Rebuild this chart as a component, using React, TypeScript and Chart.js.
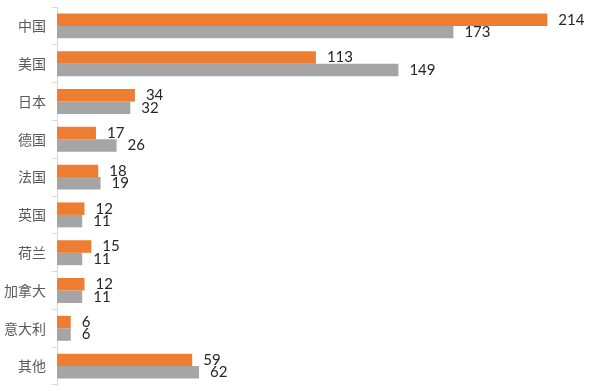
import React, { useEffect, useRef } from "react";
import { Chart, registerables } from "chart.js";

Chart.register(...registerables);

const categories = ["中国", "美国", "日本", "德国", "法国", "英国", "荷兰", "加拿大", "意大利", "其他"];
const series1Name = "系列1";
const series2Name = "系列2";
const series1Values = [214, 113, 34, 17, 18, 12, 15, 12, 6, 59];
const series2Values = [173, 149, 32, 26, 19, 11, 11, 11, 6, 62];

const ORANGE = "#ED7D31";
const GRAY = "#A5A5A5";

const valueLabels = {
  id: "valueLabels",
  afterDatasetsDraw(chart: any) {
    const ctx = chart.ctx;
    ctx.save();
    ctx.font = "15px Lato, 'Open Sans', sans-serif";
    ctx.fillStyle = "#262626";
    ctx.textAlign = "left";
    ctx.textBaseline = "middle";
    chart.data.datasets.forEach((ds: any, di: number) => {
      const meta = chart.getDatasetMeta(di);
      meta.data.forEach((bar: any, i: number) => {
        ctx.fillText(String(ds.data[i]), bar.x + 11, bar.y);
      });
    });
    ctx.restore();
  },
};

export default function App() {
  const ref = useRef<HTMLCanvasElement | null>(null);
  useEffect(() => {
    if (!ref.current) return;
    const chart = new Chart(ref.current, {
      type: "bar",
      data: {
        labels: categories,
        datasets: [
          { label: series1Name, data: series1Values, backgroundColor: ORANGE, categoryPercentage: 0.66, barPercentage: 1 },
          { label: series2Name, data: series2Values, backgroundColor: GRAY, categoryPercentage: 0.66, barPercentage: 1 },
        ],
      },
      options: {
        indexAxis: "y",
        animation: false,
        responsive: true,
        maintainAspectRatio: false,
        layout: { padding: { top: 7, bottom: 6, right: 15, left: 0 } },
        plugins: { legend: { display: false }, tooltip: { enabled: false } },
        scales: {
          x: { display: false, min: 0, max: 230 },
          y: {
            afterFit: (scale: any) => {
              scale.width = 57;
              scale.paddingTop = 0;
              scale.paddingBottom = 0;
            },
            grid: { display: true, drawOnChartArea: false, drawTicks: true, tickLength: 5, color: "#D9D9D9", offset: true },
            border: { display: true, color: "#D9D9D9" },
            ticks: { color: "#595959", padding: 6, font: { size: 14, family: "'Noto Sans CJK SC', sans-serif" } },
          },
        },
      },
      plugins: [valueLabels],
    });
    return () => chart.destroy();
  }, []);
  return (
    <div style={{ position: "fixed", left: 0, top: 0, width: 599, height: 391, background: "#fff" }}>
      <canvas ref={ref} />
    </div>
  );
}
